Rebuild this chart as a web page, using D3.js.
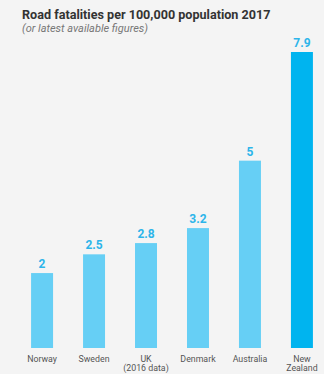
<!DOCTYPE html>
<html><head><meta charset="utf-8">
<script src="https://cdn.jsdelivr.net/npm/d3@7"></script>
<style>
html,body{margin:0;padding:0;background:#f4f4f4;}
svg{display:block;}
</style></head>
<body>
<svg id="c" width="324" height="374"></svg>
<script>
const categories = ["Norway", "Sweden", "UK\n(2016 data)", "Denmark", "Australia", "New\nZealand"];
const values = [2, 2.5, 2.8, 3.2, 5, 7.9];
const valueLabels = ["2", "2.5", "2.8", "3.2", "5", "7.9"];
const highlight = [false, false, false, false, false, true];

const svg = d3.select("#c");
svg.append("rect").attr("width",324).attr("height",374).attr("fill","#f4f4f4");

svg.append("text").attr("x",22).attr("y",19)
  .attr("font-family","Roboto, 'Open Sans', sans-serif").attr("font-weight","bold")
  .attr("font-size",12.6).attr("fill","#333").text("Road fatalities per 100,000 population 2017");
svg.append("text").attr("x",22).attr("y",32)
  .attr("font-family","Roboto, 'Open Sans', sans-serif").attr("font-style","italic")
  .attr("font-size",11).attr("fill","#777").text("(or latest available figures)");

const x = d3.scaleBand().domain(categories).range([16, 328]).paddingInner(0.577).paddingOuter(0.29);
const y = d3.scaleLinear().domain([0, 7.9]).range([348, 52]);

const g = svg.append("g");
g.selectAll("rect.bar").data(values).join("rect").attr("class","bar")
  .attr("x",(d,i)=>x(categories[i])).attr("width",x.bandwidth())
  .attr("y",d=>y(d)).attr("height",d=>y(0)-y(d))
  .attr("fill",(d,i)=>highlight[i]?"#00b4ef":"#66cff5");

g.selectAll("text.val").data(values).join("text").attr("class","val")
  .attr("x",(d,i)=>x(categories[i])+x.bandwidth()/2).attr("y",d=>y(d)-5)
  .attr("text-anchor","middle").attr("font-family","Roboto, sans-serif")
  .attr("font-weight","bold").attr("font-size",12).attr("fill","#2db5ea")
  .text((d,i)=>valueLabels[i]);

const lab = g.selectAll("text.cat").data(categories).join("text").attr("class","cat")
  .attr("x",d=>x(d)+x.bandwidth()/2).attr("y",362)
  .attr("text-anchor","middle").attr("font-family","Roboto, sans-serif")
  .attr("font-size",8.8).attr("fill","#555");
lab.each(function(d){
  const t = d3.select(this);
  d.split("\n").forEach((s,i)=>{
    t.append("tspan").attr("x",x(d)+x.bandwidth()/2).attr("dy",i?8.5:0).text(s);
  });
});
</script>
</body></html>
